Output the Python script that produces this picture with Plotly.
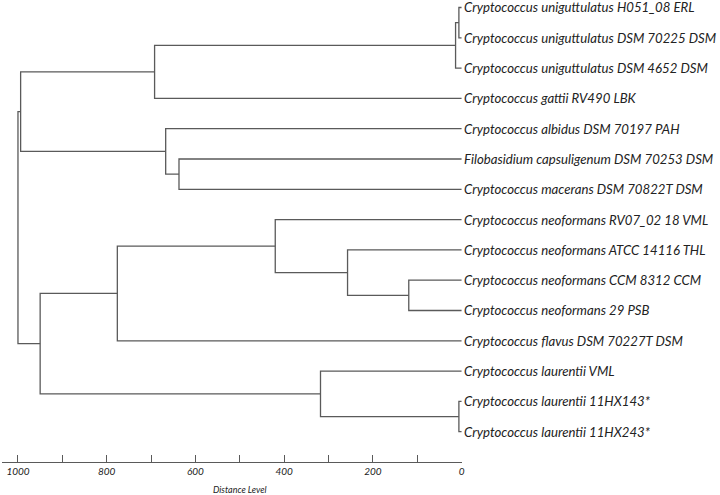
import plotly.graph_objects as go

labels = [
    "Cryptococcus uniguttulatus H051_08 ERL",
    "Cryptococcus uniguttulatus DSM 70225 DSM",
    "Cryptococcus uniguttulatus DSM 4652 DSM",
    "Cryptococcus gattii RV490 LBK",
    "Cryptococcus albidus DSM 70197 PAH",
    "Filobasidium capsuligenum DSM 70253 DSM",
    "Cryptococcus macerans DSM 70822T DSM",
    "Cryptococcus neoformans RV07_02 18 VML",
    "Cryptococcus neoformans ATCC 14116 THL",
    "Cryptococcus neoformans CCM 8312 CCM",
    "Cryptococcus neoformans 29 PSB",
    "Cryptococcus flavus DSM 70227T DSM",
    "Cryptococcus laurentii VML",
    "Cryptococcus laurentii 11HX143*",
    "Cryptococcus laurentii 11HX243*",
]

# merges (node ids: leaves 0..14, internal nodes 15..)
merge_left = [0, 15, 16, 5, 4, 17, 9, 8, 7, 23, 13, 12, 24, 20]
merge_right = [1, 2, 3, 6, 18, 19, 10, 21, 22, 11, 14, 25, 26, 27]
merge_height = [6, 13.5, 692, 637, 667, 994, 119, 257, 420, 776, 6, 318, 950, 1000]

tick_vals = [0, 100, 200, 300, 400, 500, 600, 700, 800, 900, 1000]
tick_text = ["0", "", "200", "", "400", "", "600", "", "800", "", "1000"]

n = len(labels)
pos = {i: i + 1 for i in range(n)}
hgt = {i: 0.0 for i in range(n)}
xs, ys = [], []
for k, (a, b, h) in enumerate(zip(merge_left, merge_right, merge_height)):
    node = n + k
    xs += [hgt[a], h, h, hgt[b], None]
    ys += [pos[a], pos[a], pos[b], pos[b], None]
    pos[node] = (pos[a] + pos[b]) / 2
    hgt[node] = h

fig = go.Figure()
fig.add_trace(go.Scatter(x=xs, y=ys, mode="lines",
                         line=dict(color="#5a5a5a", width=1.3),
                         hoverinfo="skip", showlegend=False))

for i, lab in enumerate(labels):
    fig.add_annotation(x=0, y=i + 1, xref="x", yref="y", text=lab,
                       showarrow=False, xanchor="left", yanchor="middle",
                       xshift=1, borderpad=0,
                       font=dict(family="Lato", size=13.2, color="#222222", style="italic"))

fig.add_annotation(x=500, y=0, xref="x", yref="paper", text="Distance Level",
                   showarrow=False, xanchor="center", yanchor="middle",
                   yshift=-27,
                   font=dict(family="Lato", size=9, color="#222222", style="italic"))

fig.update_xaxes(range=[1036, -1], showline=True, linecolor="#5a5a5a", linewidth=1.3,
                 ticks="inside", ticklen=7, tickcolor="#5a5a5a", tickwidth=1.2,
                 tickvals=tick_vals, ticktext=tick_text,
                 tickfont=dict(family="Lato", size=10, color="#222222", style="italic"),
                 showgrid=False, zeroline=False)
fig.update_yaxes(range=[16, 0.753], visible=False, showgrid=False, zeroline=False)

fig.update_layout(width=720, height=495, margin=dict(l=2, r=258, t=0, b=33),
                  plot_bgcolor="white", paper_bgcolor="white")

fig.write_html("out.html", config={"displayModeBar": False},
               post_script="document.body.style.margin='0';document.body.style.overflow='hidden';")
